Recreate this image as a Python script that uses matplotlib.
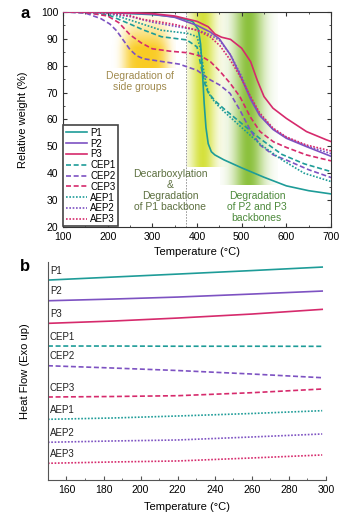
import matplotlib.pyplot as plt
import numpy as np

plt.rcParams['font.family'] = ['Liberation Sans', 'DejaVu Sans']
plt.rcParams['font.size'] = 7

teal = '#1e9c98'
purple = '#7d52c2'
pink = '#d62a6c'

# ---- panel a: TGA data (temperature in C, relative weight in %) ----
p1_t = [100, 200, 300, 350, 390, 403, 408, 412, 416, 420, 425, 432, 440, 460, 500, 550, 600, 650, 700]
p1_w = [100, 99.8, 99, 98.2, 96.5, 93.5, 88, 78, 66, 57, 51, 48, 46.8, 45, 42, 38.5, 35.3, 33.5, 32.3]

p2_t = [100, 200, 300, 350, 400, 430, 450, 475, 495, 520, 540, 570, 600, 645, 700]
p2_w = [100, 99.9, 99.2, 98, 95, 92.5, 90, 84, 77, 67.5, 61.5, 56.3, 53, 49.9, 46.3]

p3_t = [100, 200, 300, 350, 400, 425, 440, 455, 475, 500, 520, 535, 550, 570, 600, 645, 690, 700]
p3_w = [100, 99.9, 99.4, 98.5, 96.5, 94.5, 91.8, 90.6, 89.8, 86.5, 81.5, 74.5, 68.5, 64.2, 60.4, 55.5, 52.4, 51.8]

cep1_t = [100, 150, 200, 250, 280, 320, 377, 400, 410, 418, 425, 440, 460, 500, 540, 590, 640, 700]
cep1_w = [100, 99.8, 99, 95.5, 93.3, 90.8, 89.6, 87, 79, 73, 70, 67, 64, 58.5, 53, 47, 43.5, 40.6]

cep2_t = [100, 150, 185, 205, 220, 235, 250, 265, 280, 320, 360, 400, 430, 451, 474, 496, 519, 541, 571, 600, 650, 700]
cep2_w = [100, 99.6, 97.5, 95.5, 93, 89.5, 86, 83.7, 82.6, 81.6, 80.6, 78.3, 74.7, 72.8, 69.7, 63.5, 56.1, 50.5, 46.8, 44.9, 41.3, 38.4]

cep3_t = [100, 150, 200, 225, 250, 275, 300, 340, 380, 410, 430, 451, 474, 496, 519, 541, 571, 600, 645, 700]
cep3_w = [100, 99.8, 98.5, 96, 91.5, 88.5, 86.3, 85.4, 84.8, 83.5, 81.5, 78, 73.5, 68.5, 61, 55.5, 51.7, 49.6, 46.8, 44.6]

aep1_t = [100, 150, 200, 250, 300, 320, 350, 380, 400, 408, 415, 422, 430, 445, 460, 500, 540, 590, 640, 700]
aep1_w = [100, 99.9, 99.6, 97, 94.3, 93.2, 92.6, 92, 90.8, 86, 78, 72, 68.5, 65.5, 63, 57, 51, 45, 40, 36.9]

aep2_t = [100, 150, 200, 250, 300, 350, 400, 430, 451, 475, 500, 520, 540, 570, 600, 645, 700]
aep2_w = [100, 99.9, 99.5, 98.3, 96.2, 94.7, 93.3, 91.5, 89.3, 84, 76, 68, 62, 56.5, 53.3, 50.2, 47.3]

aep3_t = [100, 150, 200, 250, 280, 320, 354, 400, 429, 451, 475, 500, 520, 540, 570, 600, 645, 700]
aep3_w = [100, 99.9, 99.6, 98.6, 97.2, 96.2, 95.2, 93.2, 90.8, 87.5, 82, 75, 68.5, 62.5, 56.8, 53.5, 50.5, 48.3]

# ---- panel b: DSC data (arbitrary units, curves offset) ----
dsc_t = [150, 185, 220, 260, 298]
dsc_p1 = [20.0, 20.3, 20.6, 20.95, 21.3]
dsc_p2 = [17.93, 18.1, 18.3, 18.6, 18.9]
dsc_p3 = [15.67, 15.9, 16.2, 16.6, 17.07]
dsc_cep1 = [13.4, 13.4, 13.38, 13.38, 13.37]
dsc_cep2 = [11.43, 11.2, 10.95, 10.6, 10.23]
dsc_cep3 = [8.3, 8.35, 8.43, 8.73, 9.1]
dsc_aep1 = [6.07, 6.2, 6.4, 6.65, 6.93]
dsc_aep2 = [3.77, 3.9, 4.0, 4.3, 4.6]
dsc_aep3 = [1.67, 1.8, 1.9, 2.2, 2.5]

names = ['P1', 'P2', 'P3', 'CEP1', 'CEP2', 'CEP3', 'AEP1', 'AEP2', 'AEP3']
colors = [teal, purple, pink] * 3
dashed = (0, (3, 1.6))
dotted = (0, (1, 1))
styles = ['-'] * 3 + [dashed] * 3 + [dotted] * 3


def shade(ax, x0, x1, y0, y1, rgb, hfun, vfun):
    # gradient patch drawn as an image behind the curves
    xs = np.linspace(x0, x1, 200)
    ys = np.linspace(y1, y0, 200)
    X, Y = np.meshgrid(xs, ys)
    img = np.zeros((200, 200, 4))
    img[..., :3] = rgb
    img[..., 3] = np.clip(hfun(X) * vfun(Y), 0, 1)
    ax.imshow(img, extent=(x0, x1, y0, y1), aspect='auto', zorder=0, interpolation='bilinear')


fig = plt.figure(figsize=(3.55, 5.2), dpi=100)

# ================= panel a =================
ax = fig.add_axes([0.1775, 0.5635, 0.755, 0.4135])

shade(ax, 190, 352, 79, 100, (0.98, 0.79, 0.10),
      lambda x: np.exp(-((x - 285) / 50) ** 4) * 0.95,
      lambda y: np.clip((99.5 - y) / 13, 0, 1) ** 1.1)
shade(ax, 377, 465, 42.5, 100, (0.83, 0.88, 0.20),
      lambda x: np.exp(-((x - 412) / 28) ** 2) * 0.95,
      lambda y: np.ones_like(y))
shade(ax, 452, 580, 35.5, 100, (0.50, 0.73, 0.16),
      lambda x: np.exp(-((x - 515) / 34) ** 2) * 0.9,
      lambda y: np.ones_like(y))

ax.axvline(375, color='0.55', lw=0.6, ls=(0, (2, 1.5)), zorder=1)

tga = [(p1_t, p1_w), (p2_t, p2_w), (p3_t, p3_w),
       (cep1_t, cep1_w), (cep2_t, cep2_w), (cep3_t, cep3_w),
       (aep1_t, aep1_w), (aep2_t, aep2_w), (aep3_t, aep3_w)]
for (t, w), name, c, ls in zip(tga, names, colors, styles):
    ax.plot(t, w, color=c, ls=ls, lw=1.2, label=name, zorder=3)

ax.text(272, 74, 'Degradation of\nside groups', color='#a08a4e', ha='center', va='center',
        fontsize=7.5, linespacing=1.1, zorder=4)
ax.text(340, 33.5, 'Decarboxylation\n&\nDegradation\nof P1 backbone', color='#5d7040',
        ha='center', va='center', fontsize=7.5, linespacing=1.1, zorder=4)
ax.text(534, 27.5, 'Degradation\nof P2 and P3\nbackbones', color='#4d8a3c',
        ha='center', va='center', fontsize=7.5, linespacing=1.1, zorder=4)

ax.set_xlim(100, 700)
ax.set_ylim(20, 100)
ax.set_xticks(np.arange(100, 701, 100))
ax.set_xticks(np.arange(100, 701, 50), minor=True)
ax.set_yticks(np.arange(20, 101, 10))
ax.set_yticks(np.arange(20, 101, 5), minor=True)
ax.tick_params(which='both', direction='in', top=True, right=True, labelsize=7.5, color='#333333')
ax.tick_params(which='major', length=3)
ax.tick_params(which='minor', length=1.5)
for s in ax.spines.values():
    s.set_color('#333333')
    s.set_linewidth(0.8)
ax.set_xlabel('Temperature (°C)', fontsize=8)
ax.set_ylabel('Relative weight (%)', fontsize=8)
ax.xaxis.set_label_coords(0.5, -0.095)
ax.yaxis.set_label_coords(-0.13, 0.5)

leg = ax.legend(loc='lower left', fontsize=7, frameon=True, fancybox=False, framealpha=1,
                handlelength=2.2, handletextpad=0.3, labelspacing=0.08, borderpad=0.25,
                borderaxespad=0.05)
leg.get_frame().set_edgecolor('#444444')
leg.get_frame().set_linewidth(1.2)
leg.set_zorder(5)

fig.text(0.07, 0.975, 'a', fontsize=12, fontweight='bold', ha='center', va='center')

# ================= panel b =================
bx = fig.add_axes([0.135, 0.077, 0.783, 0.419])
dsc = [dsc_p1, dsc_p2, dsc_p3, dsc_cep1, dsc_cep2, dsc_cep3, dsc_aep1, dsc_aep2, dsc_aep3]
for hf, name, c, ls in zip(dsc, names, colors, styles):
    bx.plot(dsc_t, hf, color=c, ls=ls, lw=1.2)
    bx.text(151, hf[0] + 0.45, name, fontsize=7, ha='left', va='bottom', color='#222222')

bx.set_xlim(150, 300)
bx.set_ylim(0, 21.8)
bx.set_xticks(np.arange(160, 301, 20))
bx.set_xticks(np.arange(150, 301, 10), minor=True)
bx.set_yticks([])
bx.spines['top'].set_visible(False)
bx.spines['right'].set_visible(False)
for s in ['left', 'bottom']:
    bx.spines[s].set_color('#555555')
    bx.spines[s].set_linewidth(0.8)
bx.tick_params(which='both', direction='in', labelsize=7.5, color='#555555')
bx.tick_params(which='major', length=3)
bx.tick_params(which='minor', length=1.5)
bx.set_xlabel('Temperature (°C)', fontsize=8)
bx.set_ylabel('Heat Flow (Exo up)', fontsize=8)
bx.xaxis.set_label_coords(0.5, -0.1)
bx.yaxis.set_label_coords(-0.065, 0.5)

fig.text(0.07, 0.487, 'b', fontsize=12, fontweight='bold', ha='center', va='center')

fig.savefig('out.png', dpi=100)
